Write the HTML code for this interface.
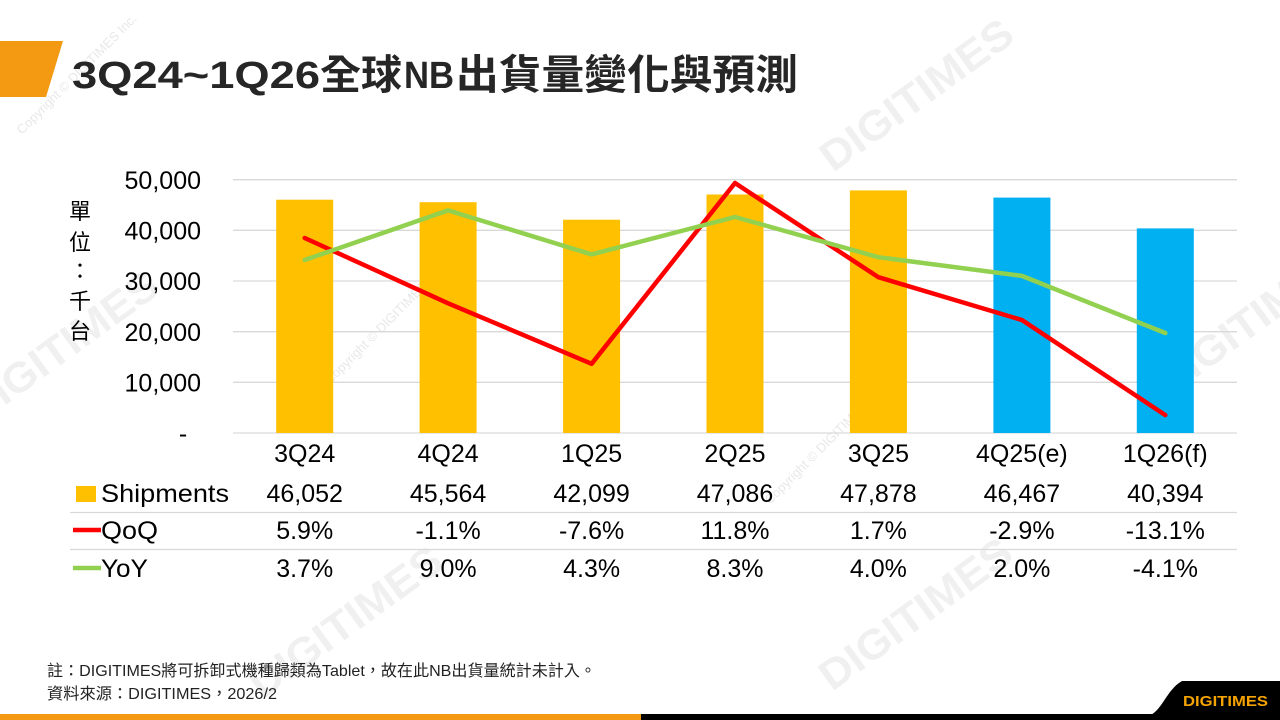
<!DOCTYPE html>
<html><head><meta charset="utf-8"><style>
html,body{margin:0;padding:0;background:#fff;}
svg{display:block;}
</style></head><body>
<svg width="1280" height="720" viewBox="0 0 1280 720" xmlns="http://www.w3.org/2000/svg" font-family="'Liberation Sans','Noto Sans CJK TC',sans-serif">
<rect width="1280" height="720" fill="#fff"/>
<!-- watermarks -->
<g fill="#f0f0f0" font-weight="bold" font-size="42">
<text x="0" y="0" transform="translate(833,173) rotate(-35.9)" textLength="227" lengthAdjust="spacingAndGlyphs">DIGITIMES</text>
<text x="0" y="0" transform="translate(-22,425) rotate(-35.9)" textLength="227" lengthAdjust="spacingAndGlyphs">DIGITIMES</text>
<text x="0" y="0" transform="translate(1168,398) rotate(-35.9)" textLength="227" lengthAdjust="spacingAndGlyphs">DIGITIMES</text>
<text x="0" y="0" transform="translate(262,700) rotate(-35.9)" textLength="227" lengthAdjust="spacingAndGlyphs">DIGITIMES</text>
<text x="0" y="0" transform="translate(832,692) rotate(-35.9)" textLength="227" lengthAdjust="spacingAndGlyphs">DIGITIMES</text>
</g>
<g fill="#e8e8e8" font-size="13">
<text transform="translate(22,135) rotate(-45)">Copyright © DIGITIMES Inc.</text>
<text transform="translate(330,385) rotate(-45)">Copyright © DIGITIMES Inc.</text>
<text transform="translate(770,505) rotate(-45)">Copyright © DIGITIMES Inc.</text>
</g>

<!-- title -->
<polygon points="0,41 63,41 46,97 0,97" fill="#F39A12"/>
<g fill="#262626" font-weight="bold">
<text x="72" y="88" font-size="38" textLength="248" lengthAdjust="spacingAndGlyphs">3Q24~1Q26</text>
<text x="320" y="89" font-size="41" textLength="82" lengthAdjust="spacingAndGlyphs">全球</text>
<text x="404" y="88" font-size="38" textLength="50" lengthAdjust="spacingAndGlyphs">NB</text>
<text x="456" y="89" font-size="41" textLength="342" lengthAdjust="spacingAndGlyphs">出貨量變化與預測</text>
</g>

<!-- gridlines -->
<g stroke="#d9d9d9" stroke-width="1.3">
<line x1="233" x2="1237" y1="179.7" y2="179.7"/>
<line x1="233" x2="1237" y1="230.3" y2="230.3"/>
<line x1="233" x2="1237" y1="281" y2="281"/>
<line x1="233" x2="1237" y1="331.7" y2="331.7"/>
<line x1="233" x2="1237" y1="382.3" y2="382.3"/>
<line x1="233" x2="1237" y1="433" y2="433"/>
<line x1="70" x2="1237" y1="512.5" y2="512.5"/>
<line x1="70" x2="1237" y1="549.5" y2="549.5"/>
</g>

<!-- y axis labels -->
<g fill="#000" font-size="25" text-anchor="end">
<text x="201" y="189">50,000</text>
<text x="201" y="239.5">40,000</text>
<text x="201" y="290">30,000</text>
<text x="201" y="341">20,000</text>
<text x="201" y="391.5">10,000</text>
</g>
<text x="183" y="442" font-size="25" text-anchor="middle" fill="#000">-</text>
<g fill="#000" font-size="22" text-anchor="middle">
<text x="80" y="219">單</text>
<text x="80" y="250">位</text>
<text x="80" y="279">：</text>
<text x="80" y="309">千</text>
<text x="80" y="339">台</text>
</g>

<!-- bars -->
<g>
<rect x="276.2" y="199.7" width="57" height="233.3" fill="#FFC000"/>
<rect x="419.6" y="202.2" width="57" height="230.8" fill="#FFC000"/>
<rect x="563.1" y="219.7" width="57" height="213.3" fill="#FFC000"/>
<rect x="706.5" y="194.5" width="57" height="238.5" fill="#FFC000"/>
<rect x="849.9" y="190.4" width="57" height="242.6" fill="#FFC000"/>
<rect x="993.4" y="197.6" width="57" height="235.4" fill="#00B0F0"/>
<rect x="1136.8" y="228.4" width="57" height="204.6" fill="#00B0F0"/>
</g>

<!-- lines -->
<polyline points="304.7,238 448.1,303.3 591.6,363.8 735,183 878.4,277.2 1021.9,320 1165.3,415.1" fill="none" stroke="#FF0000" stroke-width="4.5" stroke-linejoin="round" stroke-linecap="round"/>
<polyline points="304.7,260 448.1,210.4 591.6,254.4 735,217 878.4,257.2 1021.9,275.9 1165.3,333" fill="none" stroke="#92D050" stroke-width="4.5" stroke-linejoin="round" stroke-linecap="round"/>

<!-- x labels & table -->
<g fill="#000" font-size="25" text-anchor="middle">
<text x="304.7" y="462">3Q24</text>
<text x="448.1" y="462">4Q24</text>
<text x="591.6" y="462">1Q25</text>
<text x="735" y="462">2Q25</text>
<text x="878.4" y="462">3Q25</text>
<text x="1021.9" y="462">4Q25(e)</text>
<text x="1165.3" y="462">1Q26(f)</text>

<text x="304.7" y="502">46,052</text>
<text x="448.1" y="502">45,564</text>
<text x="591.6" y="502">42,099</text>
<text x="735" y="502">47,086</text>
<text x="878.4" y="502">47,878</text>
<text x="1021.9" y="502">46,467</text>
<text x="1165.3" y="502">40,394</text>

<text x="304.7" y="539">5.9%</text>
<text x="448.1" y="539">-1.1%</text>
<text x="591.6" y="539">-7.6%</text>
<text x="735" y="539">11.8%</text>
<text x="878.4" y="539">1.7%</text>
<text x="1021.9" y="539">-2.9%</text>
<text x="1165.3" y="539">-13.1%</text>

<text x="304.7" y="577">3.7%</text>
<text x="448.1" y="577">9.0%</text>
<text x="591.6" y="577">4.3%</text>
<text x="735" y="577">8.3%</text>
<text x="878.4" y="577">4.0%</text>
<text x="1021.9" y="577">2.0%</text>
<text x="1165.3" y="577">-4.1%</text>
</g>
<rect x="76" y="486" width="20" height="16" fill="#FFC000"/>
<line x1="73" x2="101" y1="530" y2="530" stroke="#FF0000" stroke-width="4.5"/>
<line x1="73" x2="101" y1="568" y2="568" stroke="#92D050" stroke-width="4.5"/>
<g fill="#000" font-size="25">
<text x="101" y="502" textLength="128" lengthAdjust="spacingAndGlyphs">Shipments</text>
<text x="101" y="539" textLength="57" lengthAdjust="spacingAndGlyphs">QoQ</text>
<text x="101" y="577" textLength="47" lengthAdjust="spacingAndGlyphs">YoY</text>
</g>

<!-- footer notes -->
<g fill="#222" font-size="16">
<text x="47" y="676" textLength="549" lengthAdjust="spacingAndGlyphs">註：DIGITIMES將可拆卸式機種歸類為Tablet，故在此NB出貨量統計未計入。</text>
<text x="47" y="699" textLength="230" lengthAdjust="spacingAndGlyphs">資料來源：DIGITIMES，2026/2</text>
</g>

<!-- bottom bar -->
<rect x="0" y="714" width="641" height="6" fill="#F39A12"/>
<rect x="641" y="714" width="639" height="6" fill="#000"/>
<path d="M1148,716 C1162,712 1166,690 1182,681 L1280,681 L1280,720 L1148,720 Z" fill="#000"/>
<text x="1183" y="706" font-size="15" font-weight="bold" fill="#F5A300" textLength="85" lengthAdjust="spacingAndGlyphs">DIGITIMES</text>
</svg>
</body></html>
